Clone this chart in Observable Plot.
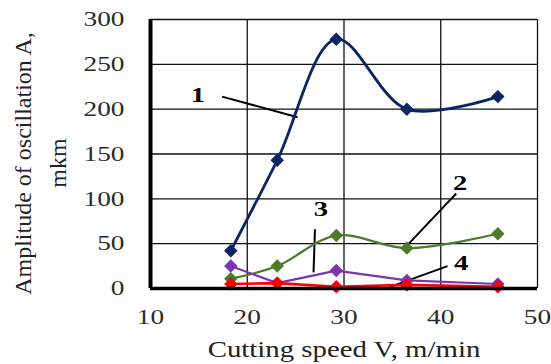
<!DOCTYPE html>
<html>
<head>
<meta charset="utf-8">
<script src="https://cdn.jsdelivr.net/npm/d3@7"></script>
<script src="https://cdn.jsdelivr.net/npm/@observablehq/plot@0.6"></script>
<style>
  html, body { margin: 0; padding: 0; background: #fff; }
</style>
</head>
<body>
<div id="chart"></div>
<script>
// Cutting speed (m/min)
const speed = [18.3, 23.1, 29.2, 36.5, 45.9];
// Amplitude of oscillation (mkm) per curve
const amp1 = [42, 143, 278, 200, 214];
const amp2 = [11, 25, 59, 45, 61];
const amp3 = [25, 6, 20, 9, 5];
const amp4 = [5, 6, 2, 4, 2];
const seriesNames = ["1", "2", "3", "4"];
const seriesColors = ["#0a2464", "#4f7a2c", "#7a35b0", "#ff0000"];

const xTicks = [10, 20, 30, 40, 50];
const yTicks = [0, 50, 100, 150, 200, 250, 300];
const xTitle = "Cutting speed V, m/min";
const yTitle1 = "Amplitude of oscillation A,";
const yTitle2 = "mkm";

// Curve labels and leader lines (data units)
const labelX = [14.9, 42.0, 27.6, 42.1];
const labelY = [216, 118, 89, 29];
const leadX1 = [17.4, 41.6, 27.0, 40.7];
const leadY1 = [214, 106, 66, 25];
const leadX2 = [25.2, 36.7, 26.85, 34.7];
const leadY2 = [191, 50, 18, 1.5];

const allSeries = [amp1, amp2, amp3, amp4];
const rows = allSeries.flatMap((vals, i) =>
  vals.map((v, j) => ({series: seriesNames[i], x: speed[j], y: v})));
const labels = seriesNames.map((s, i) => ({text: s, x: labelX[i], y: labelY[i]}));
const leaders = seriesNames.map((s, i) => ({x1: leadX1[i], y1: leadY1[i], x2: leadX2[i], y2: leadY2[i]}));

const font = "Liberation Serif";
const curves = ["catmull-rom", "catmull-rom", "linear", "linear"];
const widths = [2.8, 2.2, 2.2, 2.6];

const marks = [
  Plot.ruleY(yTicks.filter(d => d > 0), {stroke: "#111", strokeWidth: 1.3}),
  Plot.ruleX(xTicks.filter(d => d > 10), {stroke: "#111", strokeWidth: 1.3}),
  Plot.axisY({ticks: yTicks, tickSize: 0, tickPadding: 26, fontSize: 21, fontFamily: font, fill: "#2a2a2a", label: null}),
  Plot.axisX({ticks: xTicks, tickSize: 0, tickPadding: 21, fontSize: 21, fontFamily: font, fill: "#2a2a2a", label: null}),
  Plot.link(leaders, {x1: "x1", y1: "y1", x2: "x2", y2: "y2", stroke: "#000", strokeWidth: 2}),
];
seriesNames.forEach((s, i) => {
  const d = rows.filter(r => r.series === s);
  marks.push(Plot.line(d, {x: "x", y: "y", stroke: seriesColors[i], strokeWidth: widths[i], curve: curves[i]}));
  marks.push(Plot.dot(d, {x: "x", y: "y", symbol: "square", rotate: 45, r: 4.8, fill: seriesColors[i], stroke: seriesColors[i], strokeWidth: 1}));
});
marks.push(
  Plot.ruleX([10], {stroke: "#000", strokeWidth: 4}),
  Plot.ruleY([0], {stroke: "#000", strokeWidth: 3.5}),
  Plot.text(labels, {x: "x", y: "y", text: "text", fontSize: 22, fontWeight: "bold", fontFamily: font, fill: "#000"}),
  Plot.text([yTitle1], {frameAnchor: "left", textAnchor: "middle", dx: -127, dy: 9.5, rotate: -90, fontSize: 24, fontFamily: font, fill: "#222"}),
  Plot.text([yTitle2], {frameAnchor: "left", textAnchor: "middle", dx: -92, dy: 9, rotate: -90, fontSize: 24, fontFamily: font, fill: "#222"}),
  Plot.text([xTitle], {frameAnchor: "bottom", dy: 68, fontSize: 24, fontFamily: font, fill: "#222"})
);

const chart = Plot.plot({
  width: 551,
  height: 364,
  marginLeft: 150,
  marginRight: 14,
  marginTop: 19,
  marginBottom: 76,
  style: {fontFamily: font, background: "#fff", overflow: "visible"},
  x: {domain: [10, 50]},
  y: {domain: [0, 300]},
  marks
});
document.getElementById("chart").appendChild(chart);

// The reference typeface is set wider than Liberation Serif: widen horizontal texts.
chart.querySelectorAll("text").forEach(t => {
  const s = t.textContent;
  if (s === yTitle1 || s === yTitle2) return;
  const f = s === xTitle ? 1.2 : 1.3;
  const len = t.getComputedTextLength();
  t.setAttribute("textLength", (len * f).toFixed(1));
  t.setAttribute("lengthAdjust", "spacingAndGlyphs");
});
</script>
</body>
</html>
